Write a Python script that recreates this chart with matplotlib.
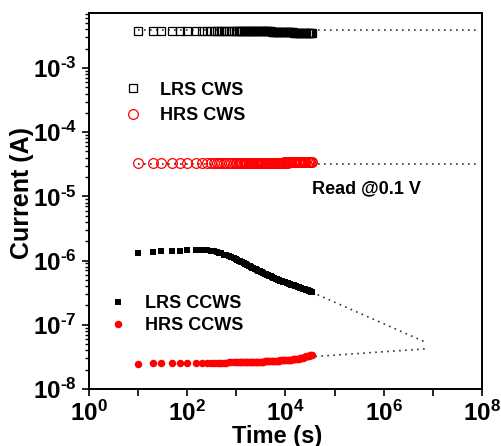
import matplotlib
matplotlib.use("Agg")
import matplotlib.pyplot as plt

plt.rcParams['font.family'] = ['Liberation Sans', 'DejaVu Sans']
plt.rcParams['font.weight'] = 'bold'
plt.rcParams['mathtext.fontset'] = 'custom'
plt.rcParams['mathtext.rm'] = 'Liberation Sans:bold'
plt.rcParams['mathtext.bf'] = 'Liberation Sans:bold'
plt.rcParams['mathtext.it'] = 'Liberation Sans:bold:italic'

# retention read times (s), shared by all four series
time_s = [10, 20, 30, 50, 70, 100, 150, 200, 250, 300, 350, 400, 450, 500, 560, 630,
          710, 800, 900,
          1000, 1060, 1120, 1190, 1260, 1330, 1410, 1500, 1590, 1680, 1780, 1880,
          2000, 2110, 2240, 2370, 2510, 2660, 2820, 2990, 3160, 3350, 3550, 3760,
          3980, 4220, 4470, 4730, 5010, 5310, 5620, 5960, 6310, 6680, 7080, 7500,
          7940, 8410, 8910, 9440, 10000, 10600, 11200, 11900, 12600, 13300, 14100,
          15000, 15800, 16800, 17800, 18800, 20000, 21100, 22400, 23700, 25100,
          26600, 28200, 29900, 31600, 33500, 35000]

# LRS, CWS (mA)
lrs_cws_mA = [3.76, 3.75, 3.77, 3.76, 3.76, 3.77, 3.76, 3.75, 3.76, 3.77, 3.76, 3.76,
              3.75, 3.77, 3.76, 3.76, 3.75, 3.76, 3.77,
              3.76, 3.75, 3.76, 3.77, 3.76, 3.75, 3.76, 3.76, 3.75, 3.76, 3.77, 3.76,
              3.75, 3.76, 3.75, 3.76, 3.75, 3.75, 3.76, 3.75, 3.74, 3.75, 3.74,
              3.73, 3.73, 3.72, 3.71, 3.71, 3.70, 3.69, 3.69, 3.68, 3.67, 3.67, 3.66,
              3.65, 3.64, 3.64, 3.63, 3.62, 3.62, 3.61, 3.60, 3.59, 3.59, 3.58, 3.57,
              3.56, 3.56, 3.55, 3.54, 3.53, 3.53, 3.52, 3.51, 3.50, 3.50, 3.49, 3.48,
              3.47, 3.47, 3.46, 3.45]

# HRS, CWS (x1e-5 A)
hrs_cws_e5 = [3.33, 3.32, 3.33, 3.34, 3.33, 3.33, 3.32, 3.33, 3.32, 3.33, 3.31, 3.32,
              3.33, 3.31, 3.32, 3.30, 3.31, 3.32, 3.30,
              3.31, 3.30, 3.31, 3.30, 3.29, 3.30, 3.31, 3.30, 3.29, 3.30, 3.31, 3.30,
              3.31, 3.30, 3.31, 3.32, 3.31, 3.32, 3.31, 3.32,
              3.32, 3.33, 3.32, 3.33, 3.34, 3.33, 3.34, 3.33, 3.34, 3.35, 3.34, 3.35,
              3.34, 3.35, 3.36, 3.35, 3.36, 3.35, 3.36, 3.37,
              3.36, 3.37, 3.36, 3.37, 3.38, 3.37, 3.38, 3.39, 3.38, 3.39, 3.38, 3.39,
              3.40, 3.39, 3.40, 3.41, 3.40, 3.41, 3.40, 3.41, 3.42, 3.41, 3.42]

# LRS, CCWS (uA)
lrs_ccws_uA = [1.33, 1.37, 1.39, 1.41, 1.43, 1.46, 1.48, 1.48, 1.46, 1.43, 1.40, 1.36,
               1.32, 1.29, 1.24, 1.20, 1.16, 1.12, 1.08,
               1.047, 1.023, 1.000, 0.977, 0.955, 0.933, 0.914, 0.893, 0.873, 0.853,
               0.834, 0.815, 0.796, 0.778, 0.760, 0.743, 0.728, 0.711, 0.695, 0.679,
               0.665, 0.652, 0.638, 0.626, 0.614, 0.601, 0.589, 0.578, 0.566, 0.555,
               0.543, 0.533, 0.522, 0.512, 0.501, 0.492, 0.484, 0.476, 0.470, 0.462,
               0.455, 0.449, 0.442, 0.435, 0.429, 0.422, 0.415, 0.409, 0.403, 0.396,
               0.390, 0.385, 0.378, 0.372, 0.366, 0.361, 0.355, 0.349, 0.344, 0.338,
               0.333, 0.327, 0.324]

# HRS, CCWS (x1e-8 A)
hrs_ccws_e8 = [2.42, 2.50, 2.53, 2.53, 2.52, 2.52, 2.53, 2.54, 2.54, 2.55, 2.55, 2.55,
               2.56, 2.56, 2.57, 2.57, 2.58, 2.58, 2.59,
               2.60, 2.60, 2.61, 2.61, 2.61, 2.62, 2.62, 2.62, 2.63, 2.63, 2.63, 2.63,
               2.64, 2.64, 2.64, 2.65, 2.65, 2.65, 2.66, 2.66, 2.66,
               2.67, 2.67, 2.68, 2.68, 2.69, 2.69, 2.70, 2.71, 2.71, 2.72, 2.73, 2.74,
               2.75, 2.76, 2.77, 2.78,
               2.79, 2.80, 2.81, 2.82, 2.83, 2.84, 2.85, 2.86, 2.87, 2.88, 2.89, 2.90,
               2.92, 2.94, 2.96, 2.98, 3.01, 3.05,
               3.10, 3.15, 3.20, 3.25, 3.30, 3.35, 3.38, 3.38]

lrs_cws = [v * 1e-3 for v in lrs_cws_mA]
hrs_cws = [v * 1e-5 for v in hrs_cws_e5]
lrs_ccws = [v * 1e-6 for v in lrs_ccws_uA]
hrs_ccws = [v * 1e-8 for v in hrs_ccws_e8]

# dotted extrapolation lines (start, end)
fit_lrs_cws_t = [10, 8e7]
fit_lrs_cws_i = [3.85e-3, 3.85e-3]
fit_hrs_cws_t = [10, 8e7]
fit_hrs_cws_i = [3.15e-5, 3.15e-5]
fit_lrs_ccws_t = [35000, 6.9e6]
fit_lrs_ccws_i = [3.2e-7, 5.4e-8]
fit_hrs_ccws_t = [800, 6.9e6]
fit_hrs_ccws_i = [2.6e-8, 4.2e-8]

x_ticks = [1e0, 1e1, 1e2, 1e3, 1e4, 1e5, 1e6, 1e7, 1e8]
x_labels = ['$10^{0}$', '', '$10^{2}$', '', '$10^{4}$', '', '$10^{6}$', '', '$10^{8}$']
y_ticks = [1e-8, 1e-7, 1e-6, 1e-5, 1e-4, 1e-3]
y_labels = ['$10^{\\text{-}8}$', '$10^{\\text{-}7}$', '$10^{\\text{-}6}$',
            '$10^{\\text{-}5}$', '$10^{\\text{-}4}$', '$10^{\\text{-}3}$']

fig = plt.figure(figsize=(5.02, 4.46), dpi=100)
ax = fig.add_axes([0.177, 0.128, 0.783, 0.843])

dot = dict(color='#333333', linestyle=(0, (1, 2.6)), linewidth=1.2, zorder=1)
ax.plot(fit_lrs_cws_t, fit_lrs_cws_i, **dot)
ax.plot(fit_hrs_cws_t, fit_hrs_cws_i, **dot)
ax.plot(fit_lrs_ccws_t, fit_lrs_ccws_i, **dot)
ax.plot(fit_hrs_ccws_t, fit_hrs_ccws_i, **dot)

h1, = ax.plot(time_s, lrs_cws, 's', ms=5.8, mfc='none', mec='black', mew=0.9,
              label='LRS CWS', zorder=2)
h2, = ax.plot(time_s, hrs_cws, 'o', ms=7, mfc='none', mec='red', mew=0.9,
              label='HRS CWS', zorder=2)
h3, = ax.plot(time_s, lrs_ccws, 's', ms=4.8, color='black', mew=0,
              label='LRS CCWS', zorder=2)
h4, = ax.plot(time_s, hrs_ccws, 'o', ms=5.4, color='red', mew=0,
              label='HRS CCWS', zorder=2)

ax.set_xscale('log')
ax.set_yscale('log')
ax.set_xlim(1, 1e8)
ax.set_ylim(1e-8, 7.2e-3)

ax.set_xticks(x_ticks)
ax.set_xticklabels(x_labels)
ax.set_yticks(y_ticks)
ax.set_yticklabels(y_labels)
ax.tick_params(which='major', direction='out', length=5, width=1.2,
               labelsize=17.5, pad=3.5)
ax.tick_params(which='minor', direction='out', length=3, width=1.0)
for s in ax.spines.values():
    s.set_linewidth(1.4)

ax.set_xlabel('Time (s)', fontsize=17, fontweight='bold')
ax.set_ylabel('Current (A)', fontsize=18, fontweight='bold')
ax.xaxis.set_label_coords(0.478, -0.095)
ax.yaxis.set_label_coords(-0.14, 0.52)

leg1 = ax.legend(handles=[h1, h2], loc='upper left', bbox_to_anchor=(0.089, 0.817),
                 frameon=False, fontsize=13, handlelength=1.0, handletextpad=1.0,
                 labelspacing=0.47, borderpad=0, borderaxespad=0)
ax.add_artist(leg1)
ax.legend(handles=[h3, h4], loc='upper left', bbox_to_anchor=(0.051, 0.250),
          frameon=False, fontsize=13, handlelength=1.0, handletextpad=1.0,
          labelspacing=0.30, borderpad=0, borderaxespad=0)

ax.text(0.567, 0.532, 'Read @0.1 V', transform=ax.transAxes, fontsize=13,
        fontweight='bold', va='center', ha='left')

fig.savefig('out.png', dpi=100)
